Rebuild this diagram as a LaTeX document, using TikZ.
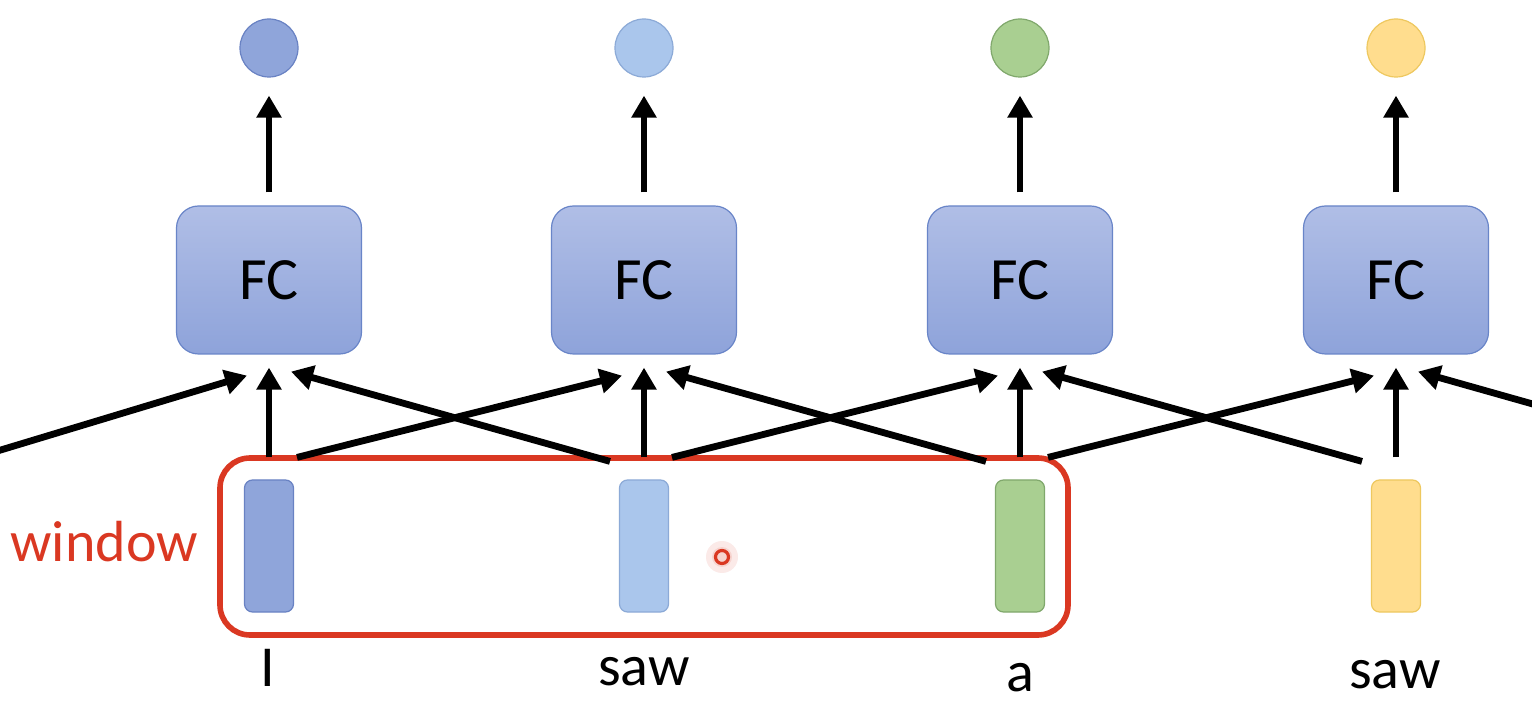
\documentclass[tikz,border=0pt]{standalone}
\usepackage{fontspec}
\setmainfont{Carlito}
\usetikzlibrary{arrows.meta,shapes.geometric}
\definecolor{fctop}{RGB}{176,190,230}
\definecolor{fcbot}{RGB}{142,163,218}
\definecolor{fcline}{RGB}{105,133,200}
\definecolor{bluefill}{RGB}{143,165,218}
\definecolor{blueline}{RGB}{105,130,195}
\definecolor{lbluefill}{RGB}{170,198,236}
\definecolor{lblueline}{RGB}{140,170,215}
\definecolor{greenfill}{RGB}{169,207,145}
\definecolor{greenline}{RGB}{128,168,108}
\definecolor{yellowfill}{RGB}{255,221,142}
\definecolor{yellowline}{RGB}{238,200,95}
\definecolor{winred}{RGB}{218,56,34}
\tikzset{
  fcbox/.style={rectangle, rounded corners=11pt, draw=fcline, line width=0.6pt,
    top color=fctop, bottom color=fcbot, minimum width=92.5pt, minimum height=74pt,
    font=\fontsize{30pt}{34pt}\selectfont, text=black, inner sep=0pt},
  outc/.style={circle, minimum size=29pt, inner sep=0pt, line width=0.6pt},
  vec/.style={rectangle, rounded corners=4pt, minimum width=24.5pt, minimum height=66pt, inner sep=0pt, line width=0.6pt},
  arr/.style={line width=3.4pt, -{Triangle[length=11pt,width=12pt]}},
  word/.style={font=\fontsize{29pt}{34pt}\selectfont, anchor=base, inner sep=0pt},
}
\begin{document}
\begin{tikzpicture}[x=0.5pt,y=-0.5pt]
\clip (0,0) rectangle (1532,716);
\fill[white] (0,0) rectangle (1532,716);

% window
\node[draw=winred, line width=2.8pt, rounded corners=15pt, minimum width=424pt, minimum height=88.5pt, inner sep=0pt] (win) at (644,546.5) {};
\node[word, anchor=base west, text=winred] (wl) at (10,561) {window};

% FC boxes
\node[fcbox] (fc1) at (269,280) {FC};
\node[fcbox] (fc2) at (644,280) {FC};
\node[fcbox] (fc3) at (1020,280) {FC};
\node[fcbox] (fc4) at (1396,280) {FC};

% output circles
\node[outc, fill=bluefill, draw=blueline] (o1) at (269,48) {};
\node[outc, fill=lbluefill, draw=lblueline] (o2) at (644,48) {};
\node[outc, fill=greenfill, draw=greenline] (o3) at (1020,48) {};
\node[outc, fill=yellowfill, draw=yellowline] (o4) at (1396,48) {};

% input vectors
\node[vec, fill=bluefill, draw=blueline] (v1) at (269,546) {};
\node[vec, fill=lbluefill, draw=lblueline] (v2) at (644,546) {};
\node[vec, fill=greenfill, draw=greenline] (v3) at (1020,546) {};
\node[vec, fill=yellowfill, draw=yellowline] (v4) at (1396,546) {};

% words
\node[word] (w1) at (268,686) {I};
\node[word] (w2) at (644,685) {saw};
\node[word] (w3) at (1020,691) {a};
\node[word] (w4) at (1395,688) {saw};

% cursor dot
\fill[winred, opacity=0.10] (722,557) circle (16);
\fill[winred, opacity=0.12] (722,557) circle (10);
\node[circle, draw=winred, line width=1.6pt, minimum size=6.5pt, inner sep=0pt] (cur) at (722,557) {};

% FC -> outputs
\foreach \i in {1,2,3,4}{
  \draw[arr] ([yshift=6.5pt]fc\i.north) -- ([yshift=-9pt]o\i.south);
}

% vertical inputs
\foreach \i in {1,2,3,4}{
  \draw[arr] ([yshift=11pt]v\i.north) -- ([yshift=-6.5pt]fc\i.south);
}

% right-going diagonals
\foreach \i/\j in {1/2,2/3,3/4}{
  \draw[arr] ([xshift=14pt,yshift=11pt]v\i.north) -- ([xshift=-11pt,yshift=-10.5pt]fc\j.south);
}
% left-going diagonals
\foreach \i/\j in {2/1,3/2,4/3}{
  \draw[arr] ([xshift=-17pt,yshift=9pt]v\i.north) -- ([xshift=11pt,yshift=-8.5pt]fc\j.south);
}
% off-picture inputs
\coordinate (offL) at (-82,475);
\coordinate (offR) at (1738,462);
\draw[arr] (offL) -- ([xshift=-11pt,yshift=-10.5pt]fc1.south);
\draw[arr] (offR) -- ([xshift=11pt,yshift=-8.5pt]fc4.south);
\end{tikzpicture}
\end{document}
